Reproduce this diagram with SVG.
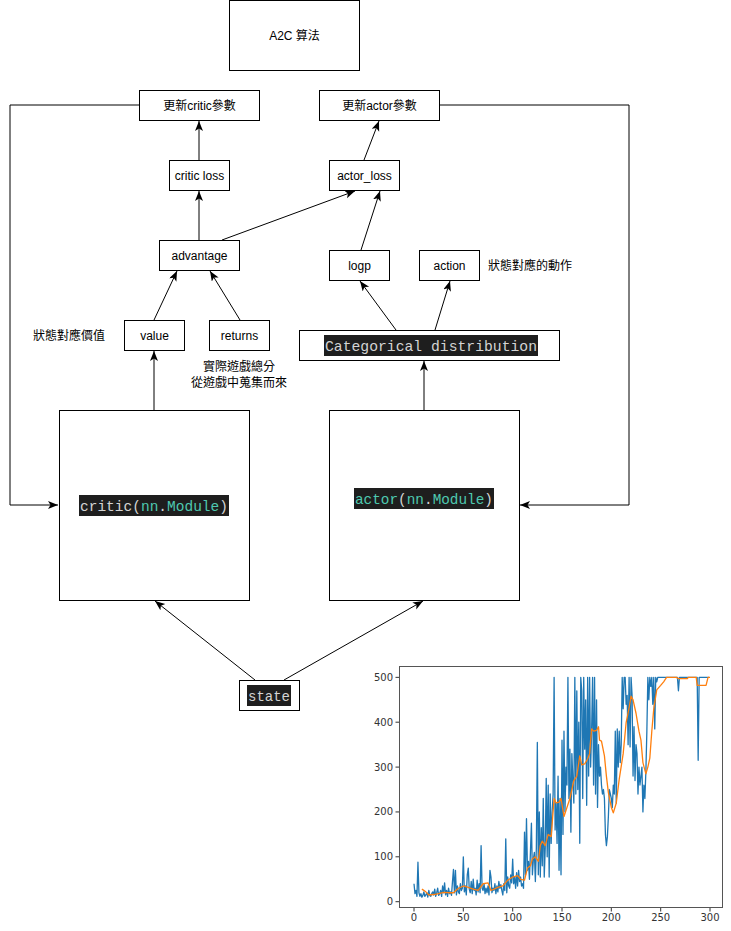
<svg xmlns="http://www.w3.org/2000/svg" width="731" height="931" viewBox="0 0 731 931">
<style>
.box{fill:#fff;stroke:#000;stroke-width:1}
.lbl{font-family:"Liberation Sans","Noto Sans CJK TC",sans-serif;font-size:12px;fill:#000;text-anchor:middle}
.note{font-family:"Liberation Sans","Noto Sans CJK TC",sans-serif;font-size:12px;fill:#000}
.code{font-family:"Liberation Mono","DejaVu Sans Mono",monospace;font-size:14.6px;fill:#d4d4d4}
.teal{fill:#4ec9b0}
.cbg{fill:#1e1e1e}
.edge{fill:none;stroke:#000;stroke-width:1;marker-end:url(#arr)}
.tick{font-family:"DejaVu Sans",sans-serif;font-size:10px;fill:#333}
.ax{stroke:#333;stroke-width:1;fill:none}
</style>
<defs>
<marker id="arr" markerUnits="userSpaceOnUse" markerWidth="12" markerHeight="10" refX="10" refY="4" orient="auto">
<path d="M0,0 L10,4 L0,8 L2.5,4 Z" fill="#000"/>
</marker>
</defs>
<rect width="731" height="931" fill="#fff"/>

<g id="connectors">
<path class="edge" d="M154,410 L154,351"/>
<path class="edge" d="M154,320 L177,271"/>
<path class="edge" d="M240,320 L210,271"/>
<path class="edge" d="M199,240 L199,191"/>
<path class="edge" d="M222,240 L355,191"/>
<path class="edge" d="M361,250 L380,191"/>
<path class="edge" d="M199,160 L199,121"/>
<path class="edge" d="M364,160 L379,121"/>
<path class="edge" d="M424,410 L424,361"/>
<path class="edge" d="M396,330 L360,281"/>
<path class="edge" d="M435,330 L450,281"/>
<path class="edge" d="M255,680 L155,601"/>
<path class="edge" d="M284,680 L423,601"/>
<path class="edge" d="M139,105 L10,105 L10,505 L58,505"/>
<path class="edge" d="M439,105 L629,105 L629,505 L520,505"/>
</g>

<g id="n-a2c"><rect class="box" x="229.5" y="0.5" width="130" height="70"/><text class="lbl" x="294.5" y="39.5">A2C 算法</text></g>
<g id="n-update-critic"><rect class="box" x="139.5" y="90.5" width="120" height="30"/><text class="lbl" x="199.5" y="109.5">更新critic參數</text></g>
<g id="n-update-actor"><rect class="box" x="319.5" y="90.5" width="120" height="30"/><text class="lbl" x="379.5" y="109.5">更新actor參數</text></g>
<g id="n-critic-loss"><rect class="box" x="169.5" y="160.5" width="60" height="30"/><text class="lbl" x="199.5" y="179.5">critic loss</text></g>
<g id="n-actor-loss"><rect class="box" x="329.5" y="160.5" width="70" height="30"/><text class="lbl" x="364.5" y="179.5">actor_loss</text></g>
<g id="n-advantage"><rect class="box" x="159.5" y="240.5" width="80" height="30"/><text class="lbl" x="199.5" y="259.5">advantage</text></g>
<g id="n-logp"><rect class="box" x="329.5" y="250.5" width="60" height="30"/><text class="lbl" x="359.5" y="269.5">logp</text></g>
<g id="n-action"><rect class="box" x="419.5" y="250.5" width="60" height="30"/><text class="lbl" x="449.5" y="269.5">action</text></g>
<g id="t-action-note"><text class="note" x="488" y="269.5">狀態對應的動作</text></g>
<g id="n-value"><rect class="box" x="124.5" y="320.5" width="60" height="30"/><text class="lbl" x="154.5" y="339.5">value</text></g>
<g id="t-value-note"><text class="note" x="33" y="339.5">狀態對應價值</text></g>
<g id="n-returns"><rect class="box" x="209.5" y="320.5" width="60" height="30"/><text class="lbl" x="239.5" y="339.5">returns</text></g>
<g id="t-returns-note"><text class="lbl" x="239" y="371">實際遊戲總分</text><text class="lbl" x="239" y="387">從遊戲中蒐集而來</text></g>
<g id="n-categorical"><rect class="box" x="299.5" y="330.5" width="260" height="30"/><rect class="cbg" x="324" y="335" width="214" height="21"/><text class="code" x="325" y="351" textLength="212" lengthAdjust="spacingAndGlyphs">Categorical distribution</text></g>
<g id="n-critic"><rect class="box" x="59.5" y="410.5" width="190" height="190"/><rect class="cbg" x="79" y="495" width="150" height="21"/><text class="code" x="80" y="511" textLength="148" lengthAdjust="spacingAndGlyphs">critic(<tspan class="teal">nn</tspan>.<tspan class="teal">Module</tspan>)</text></g>
<g id="n-actor"><rect class="box" x="329.5" y="410.5" width="190" height="190"/><rect class="cbg" x="354" y="488" width="140" height="21"/><text class="code" x="355" y="504" textLength="138" lengthAdjust="spacingAndGlyphs"><tspan class="teal">actor</tspan>(<tspan class="teal">nn</tspan>.<tspan class="teal">Module</tspan>)</text></g>
<g id="n-state"><rect class="box" x="239.5" y="680.5" width="60" height="30"/><rect class="cbg" x="247" y="685" width="44" height="21"/><text class="code" x="248" y="701" textLength="42" lengthAdjust="spacingAndGlyphs">state</text></g>

<g id="chart">
<rect x="399.5" y="666.5" width="323" height="241" fill="#fff" stroke="#555" stroke-width="1"/>
<g class="ax">
<path d="M414,908 v3.5 M463.3,908 v3.5 M512.7,908 v3.5 M562,908 v3.5 M611.3,908 v3.5 M660.7,908 v3.5 M710,908 v3.5"/>
<path d="M399,901.7 h-3.5 M399,856.8 h-3.5 M399,811.95 h-3.5 M399,767.1 h-3.5 M399,722.2 h-3.5 M399,677.35 h-3.5"/>
</g>
<g class="tick" text-anchor="middle">
<text x="414" y="921">0</text><text x="463.3" y="921">50</text><text x="512.7" y="921">100</text><text x="562" y="921">150</text><text x="611.3" y="921">200</text><text x="660.7" y="921">250</text><text x="710" y="921">300</text>
</g>
<g class="tick" text-anchor="end">
<text x="393" y="905.2">0</text><text x="393" y="860.3">100</text><text x="393" y="815.4">200</text><text x="393" y="770.6">300</text><text x="393" y="725.7">400</text><text x="393" y="680.8">500</text>
</g>
<g transform="translate(414,901.7) scale(0.9867,-0.4487)">
<polyline fill="none" stroke="#1f77b4" stroke-width="1.3" vector-effect="non-scaling-stroke" stroke-linejoin="round" points="0,40 1,18 2,25 3,12 4,88 5,20 6,12 7,18 8,10 9,14 10,22 11,12 12,15 13,20 14,10 15,25 16,14 17,12 18,18 19,22 20,15 21,28 22,12 23,20 24,30 25,14 26,18 27,25 28,12 29,35 30,20 31,42 32,15 33,25 34,12 35,30 36,18 37,22 38,14 39,45 40,72 41,20 42,70 43,15 44,35 45,22 46,18 47,40 48,25 49,30 50,100 51,22 52,35 53,15 54,60 55,75 56,28 57,20 58,45 59,18 60,50 61,25 62,30 63,15 64,48 65,22 66,40 67,20 68,125 69,30 70,25 71,40 72,18 73,30 74,20 75,35 76,15 77,70 78,55 79,20 80,30 81,25 82,40 83,18 84,35 85,22 86,45 87,30 88,38 89,25 90,15 91,40 92,25 93,140 94,20 95,55 96,35 97,30 98,60 99,42 100,95 101,40 102,55 103,30 104,65 105,35 106,70 107,45 108,55 109,35 110,40 111,30 112,155 113,60 114,185 115,70 116,90 117,50 118,110 119,175 120,60 121,95 122,110 123,45 124,120 125,355 126,60 127,200 128,55 129,165 130,80 131,230 132,55 133,120 134,275 135,100 136,260 137,55 138,240 139,130 140,200 141,240 142,500 143,160 144,220 145,130 146,280 147,70 148,230 149,60 150,360 151,150 152,380 153,200 154,300 155,260 156,500 157,230 158,340 159,155 160,330 161,270 162,220 163,500 164,240 165,470 166,250 167,400 168,130 169,500 170,470 171,230 172,500 173,340 174,450 175,215 176,500 177,280 178,500 179,300 180,380 181,500 182,260 183,500 184,240 185,450 186,210 187,350 188,280 189,300 190,260 191,240 192,250 193,230 194,150 195,125 196,145 197,190 198,250 199,240 200,230 201,210 202,260 203,240 204,380 205,220 206,385 207,300 208,380 209,310 210,350 211,500 212,430 213,500 214,500 215,440 216,460 217,350 218,500 219,345 220,500 221,460 222,280 223,390 224,270 225,350 226,330 227,240 228,300 229,260 230,280 231,300 232,200 233,260 234,230 235,290 236,380 237,500 238,450 239,500 240,480 241,500 242,440 243,500 244,385 245,500 246,490 247,500 267,500 268,470 269,500 287,500 288,315 289,500 299,500"/>
<polyline fill="none" stroke="#ff7f0e" stroke-width="1.3" vector-effect="non-scaling-stroke" stroke-linejoin="round" points="8,28 12,22 15,15 20,16 25,18 30,21 35,20 40,20 45,30 50,35 55,32 60,28 65,25 70,40 75,42 78,25 85,32 90,35 95,48 100,55 105,58 108,50 112,48 115,75 118,80 120,95 123,100 126,90 128,125 130,135 133,125 136,150 139,145 142,230 144,220 147,222 149,230 152,190 155,210 158,230 162,270 165,280 168,325 170,305 173,307 176,318 178,330 180,385 182,380 185,382 187,390 188,360 190,358 193,325 195,280 197,243 200,210 202,198 205,220 208,273 212,330 215,399 218,432 220,458 222,450 225,420 228,380 230,360 232,310 235,285 237,300 239,320 241,380 243,430 246,472 250,482 253,490 256,500 266,500 268,497 277,497 278,500 286,500 287,482 296,482 298,500 300,500"/>
</g>
</g>
</svg>
